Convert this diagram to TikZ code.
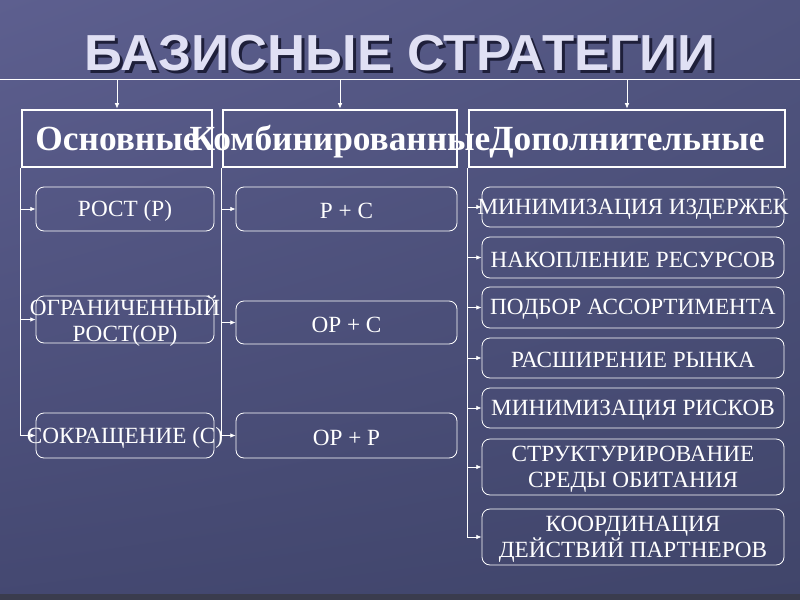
\documentclass[tikz,border=0pt]{standalone}
\usepackage{fontspec}
\setmainfont{Liberation Serif}
\newfontfamily\titlefont{Liberation Sans}
\usetikzlibrary{arrows.meta, fit, shadings}
\definecolor{bgul}{HTML}{5D5F8F}
\definecolor{bgur}{HTML}{50547F}
\definecolor{bgll}{HTML}{444871}
\definecolor{bglr}{HTML}{40456A}
\definecolor{bgstrip}{HTML}{3A3C4E}
\definecolor{titlecol}{HTML}{E0E0F4}
\definecolor{shadowcol}{HTML}{1E1F3A}

\begin{document}
\begin{tikzpicture}[x=0.75pt, y=-0.75pt,
  head/.style={draw=white, line width=2.2pt, inner sep=0pt},
  sub/.style={draw=white, line width=0.6pt, rounded corners=6pt, inner sep=0pt},
  headtext/.style={text=white, anchor=base, inner sep=0pt, font=\bfseries\fontsize{26.5}{28}\selectfont},
  subtext/.style={text=white, align=center, yshift=-1.5pt, font=\fontsize{17.4}{19.5}\selectfont},
  titletext/.style={font=\titlefont\bfseries\fontsize{38}{40}\selectfont, xscale=1.04},
  feed/.style={draw=white, line width=0.6pt, -{Latex[length=4pt, width=3.5pt]}}]
  \useasboundingbox (0,0) rectangle (800,600);
  \shade[upper left=bgul, upper right=bgur, lower left=bgll, lower right=bglr] (0,0) rectangle (800,600);
  \fill[bgstrip] (0,594) rectangle (800,600);
  \node[titletext, text=shadowcol] (title-s) at (403,56) {БАЗИСНЫЕ СТРАТЕГИИ};
  \node[titletext, text=titlecol] (title) at (400,53) {БАЗИСНЫЕ СТРАТЕГИИ};
  \coordinate (busL) at (0,79);
  \coordinate (busR) at (800,79);
  \coordinate (headbase) at (0,150);
  \draw[white, line width=0.6pt] (busL) -- (busR);
  \node[head, fit={(22,110) (212,167)}] (basic) {};
  \node[head, fit={(223,110) (457,167)}] (comb) {};
  \node[head, fit={(469,110) (785,167)}] (extra) {};
  \node[headtext] (basic-t) at (basic.center |- headbase) {Основные};
  \node[headtext] (comb-t) at (comb.center |- headbase) {Комбинированные};
  \node[headtext] (extra-t) at (extra.center |- headbase) {Дополнительные};
  \foreach \n in {basic, comb, extra}
    \draw[feed] (\n.north |- busL) -- (\n.north);
  \node[sub, fit={(36,187) (214,231)}] (grow) {};
  \node[sub, fit={(36,296) (214,343)}] (limit) {};
  \node[sub, fit={(36,413) (214,458)}] (cut) {};
  \node[subtext] (grow-t) at (grow) {РОСТ (Р)};
  \node[subtext] (limit-t) at (limit) {ОГРАНИЧЕННЫЙ\\РОСТ(ОР)};
  \node[subtext] (cut-t) at (cut) {СОКРАЩЕНИЕ (С)};
  \node[sub, fit={(236,187) (457,231)}] (gc) {};
  \node[sub, fit={(236,301) (457,344)}] (lc) {};
  \node[sub, fit={(236,413) (457,458)}] (lg) {};
  \node[subtext] (gc-t) at (gc) {Р + С};
  \node[subtext] (lc-t) at (lc) {ОР + С};
  \node[subtext] (lg-t) at (lg) {ОР + Р};
  \node[sub, fit={(482,187) (784,227)}] (costs) {};
  \node[sub, fit={(482,237) (784,278)}] (stock) {};
  \node[sub, fit={(482,287) (784,328)}] (range) {};
  \node[sub, fit={(482,338) (784,378)}] (market) {};
  \node[sub, fit={(482,388) (784,428)}] (risks) {};
  \node[sub, fit={(482,439) (784,495)}] (habitat) {};
  \node[sub, fit={(482,509) (784,565)}] (partners) {};
  \node[subtext] (costs-t) at (costs) {МИНИМИЗАЦИЯ ИЗДЕРЖЕК};
  \node[subtext] (stock-t) at (stock) {НАКОПЛЕНИЕ РЕСУРСОВ};
  \node[subtext] (range-t) at (range) {ПОДБОР АССОРТИМЕНТА};
  \node[subtext] (market-t) at (market) {РАСШИРЕНИЕ РЫНКА};
  \node[subtext] (risks-t) at (risks) {МИНИМИЗАЦИЯ РИСКОВ};
  \node[subtext] (habitat-t) at (habitat) {СТРУКТУРИРОВАНИЕ\\СРЕДЫ ОБИТАНИЯ};
  \node[subtext] (partners-t) at (partners) {КООРДИНАЦИЯ\\ДЕЙСТВИЙ ПАРТНЕРОВ};
  \foreach \n in {grow, limit, cut}
    \draw[feed] (basic.south west) |- (\n.west);
  \foreach \n in {gc, lc, lg}
    \draw[feed] (comb.south west) |- (\n.west);
  \foreach \n in {costs, stock, range, market, risks, habitat, partners}
    \draw[feed] (extra.south west) |- (\n.west);
\end{tikzpicture}
\end{document}
